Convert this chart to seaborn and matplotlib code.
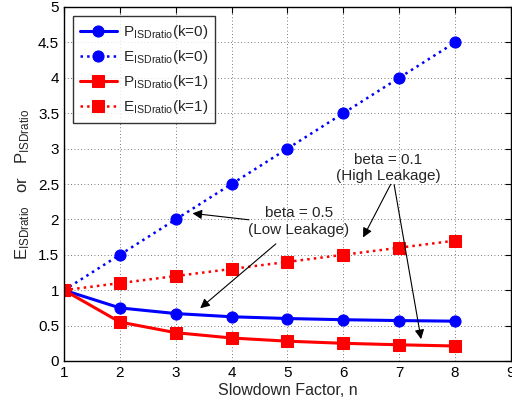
import numpy as np
import pandas as pd
import matplotlib
matplotlib.use('Agg')
import matplotlib.pyplot as plt
import seaborn as sns

# Data
n = [1, 2, 3, 4, 5, 6, 7, 8]
p_k0 = [1.0, 0.75, 0.67, 0.625, 0.60, 0.583, 0.571, 0.5625]
e_k0 = [1.0, 1.5, 2.0, 2.5, 3.0, 3.5, 4.0, 4.5]
p_k1 = [1.0, 0.55, 0.40, 0.325, 0.28, 0.25, 0.229, 0.212]
e_k1 = [1.0, 1.1, 1.2, 1.3, 1.4, 1.5, 1.6, 1.7]

sns.set_style('white')
plt.rcParams['font.family'] = ['Liberation Sans', 'DejaVu Sans']
plt.rcParams['mathtext.fontset'] = 'custom'
plt.rcParams['mathtext.rm'] = 'Liberation Sans'
plt.rcParams['mathtext.it'] = 'Liberation Sans'

fig = plt.figure(figsize=(5.12, 4.0), dpi=100)
ax = fig.add_axes([0.125, 0.0975, 0.873, 0.885])

series = [
    (p_k0, 'blue', '-', 'o', r'$\mathregular{P_{ISDratio}}$(k=0)'),
    (e_k0, 'blue', ':', 'o', r'$\mathregular{E_{ISDratio}}$(k=0)'),
    (p_k1, 'red', '-', 's', r'$\mathregular{P_{ISDratio}}$(k=1)'),
    (e_k1, 'red', ':', 's', r'$\mathregular{E_{ISDratio}}$(k=1)'),
]
for vals, col, ls, mk, lab in series:
    df = pd.DataFrame({'n': n, 'v': vals})
    sns.lineplot(data=df, x='n', y='v', ax=ax, color=col, linestyle=ls,
                 marker=mk, markersize=8, markeredgecolor=col,
                 linewidth=2.2 if ls == '-' else 1.8, label=lab)

ax.set_xlim(1, 9)
ax.set_ylim(0, 5)
ax.set_xticks(range(1, 10))
ax.set_yticks(np.arange(0, 5.01, 0.5))
ax.set_yticklabels(['0', '0.5', '1', '1.5', '2', '2.5', '3', '3.5', '4', '4.5', '5'])
ax.grid(True, linestyle=(0, (1, 3)), color='k', linewidth=0.6, alpha=0.7)
ax.tick_params(direction='in', top=True, right=True, length=4, labelsize=11, colors='k')
for s in ax.spines.values():
    s.set_color('k')
    s.set_linewidth(1.0)

ax.set_xlabel('Slowdown Factor, n', fontsize=11.5, labelpad=2)
ax.set_ylabel(r'$\mathregular{E_{ISDratio}}$   or   $\mathregular{P_{ISDratio}}$', fontsize=12, labelpad=4)

leg = ax.legend(loc='upper left', fontsize=11, frameon=True, fancybox=False,
                edgecolor='k', borderpad=0.45, handlelength=2.4, handletextpad=0.4,
                labelspacing=0.45, bbox_to_anchor=(0.003, 0.995))
leg.get_frame().set_linewidth(1.0)

arrow = dict(arrowstyle='-|>', color='k', lw=0.8, mutation_scale=14)
ax.text(5.2, 1.97, 'beta = 0.5\n(Low Leakage)', ha='center', va='center', fontsize=11)
ax.annotate('', xy=(3.25, 2.09), xytext=(4.36, 1.99), arrowprops=arrow)
ax.annotate('', xy=(3.4, 0.72), xytext=(4.83, 1.68), arrowprops=arrow)

ax.text(6.8, 2.73, 'beta = 0.1\n(High Leakage)', ha='center', va='center', fontsize=11)
ax.annotate('', xy=(6.33, 1.71), xytext=(6.87, 2.53), arrowprops=arrow)
ax.annotate('', xy=(7.4, 0.27), xytext=(6.9, 2.53), arrowprops=arrow)

fig.savefig('out.png', dpi=100)
